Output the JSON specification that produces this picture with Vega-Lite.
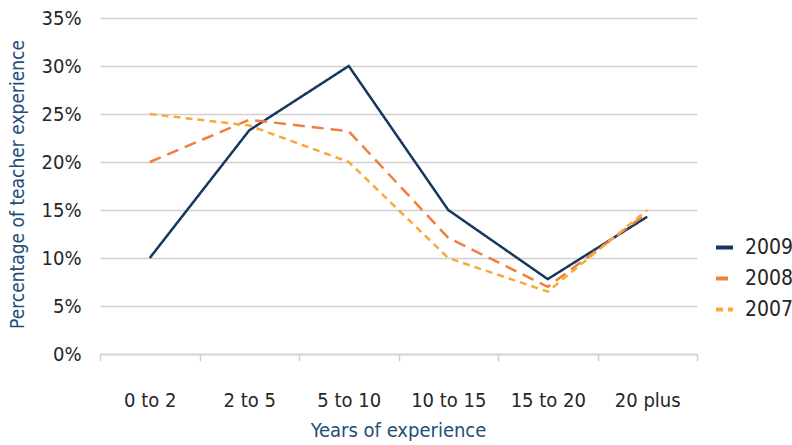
{
  "$schema": "https://vega.github.io/schema/vega-lite/v6.json",
  "width": 597,
  "height": 336,
  "autosize": {"type": "none"},
  "padding": {"left": 100, "top": 18, "right": 95, "bottom": 91},
  "background": "white",
  "config": {
    "font": "DejaVu Sans Condensed, Liberation Sans, sans-serif",
    "view": {"stroke": null}
  },
  "data": {
    "values": [
      {"exp": "0 to 2", "year": "2009", "pct": 10.0},
      {"exp": "2 to 5", "year": "2009", "pct": 23.3},
      {"exp": "5 to 10", "year": "2009", "pct": 30.0},
      {"exp": "10 to 15", "year": "2009", "pct": 15.0},
      {"exp": "15 to 20", "year": "2009", "pct": 7.8},
      {"exp": "20 plus", "year": "2009", "pct": 14.3},
      {"exp": "0 to 2", "year": "2008", "pct": 20.0},
      {"exp": "2 to 5", "year": "2008", "pct": 24.4},
      {"exp": "5 to 10", "year": "2008", "pct": 23.2},
      {"exp": "10 to 15", "year": "2008", "pct": 12.1},
      {"exp": "15 to 20", "year": "2008", "pct": 7.0},
      {"exp": "20 plus", "year": "2008", "pct": 14.7},
      {"exp": "0 to 2", "year": "2007", "pct": 25.0},
      {"exp": "2 to 5", "year": "2007", "pct": 23.8},
      {"exp": "5 to 10", "year": "2007", "pct": 20.0},
      {"exp": "10 to 15", "year": "2007", "pct": 10.0},
      {"exp": "15 to 20", "year": "2007", "pct": 6.5},
      {"exp": "20 plus", "year": "2007", "pct": 15.0}
    ]
  },
  "mark": {"type": "line", "strokeWidth": 2.5},
  "encoding": {
    "x": {
      "field": "exp",
      "type": "ordinal",
      "sort": ["0 to 2", "2 to 5", "5 to 10", "10 to 15", "15 to 20", "20 plus"],
      "scale": {"type": "band", "paddingInner": 0, "paddingOuter": 0},
      "axis": {
        "title": "Years of experience",
        "titleFontSize": 20,
        "titleFontWeight": "normal",
        "titleColor": "#1f4e79",
        "titleX": 298,
        "titleY": 76,
        "titleBaseline": "middle",
        "titleAnchor": null,
        "labelAngle": 0,
        "labelFontSize": 20,
        "labelColor": "#262626",
        "labelPadding": 29,
        "tickBand": "extent",
        "tickSize": 7,
        "tickColor": "#d0d0d0",
        "tickWidth": 1.5,
        "domainColor": "#d0d0d0",
        "domainWidth": 1.5,
        "grid": false
      }
    },
    "y": {
      "field": "pct",
      "type": "quantitative",
      "scale": {"domain": [0, 35], "nice": false},
      "axis": {
        "title": "Percentage of teacher experience",
        "titleFontSize": 19,
        "titleFontWeight": "normal",
        "titleColor": "#1f4e79",
        "titleX": -83,
        "titleY": 166,
        "titleAngle": -90,
        "titleAlign": "center",
        "titleBaseline": "middle",
        "titleAnchor": null,
        "values": [0, 5, 10, 15, 20, 25, 30, 35],
        "labelExpr": "datum.value + '%'",
        "labelFontSize": 20,
        "labelColor": "#262626",
        "labelPadding": 19,
        "ticks": false,
        "domain": false,
        "grid": true,
        "gridColor": "#d0d0d0",
        "gridWidth": 1.5
      }
    },
    "color": {
      "field": "year",
      "type": "nominal",
      "sort": ["2009", "2008", "2007"],
      "scale": {"domain": ["2009", "2008", "2007"], "range": ["#17375e", "#f07f3c", "#f9a93a"]},
      "legend": {
        "title": null,
        "orient": "none",
        "legendX": 614,
        "legendY": 219,
        "labelFontSize": 21,
        "labelColor": "#262626",
        "symbolType": "stroke",
        "symbolSize": 289,
        "symbolStrokeWidth": 4,
        "rowPadding": 9,
        "labelOffset": 10
      }
    },
    "strokeDash": {
      "field": "year",
      "type": "nominal",
      "sort": ["2009", "2008", "2007"],
      "scale": {"domain": ["2009", "2008", "2007"], "range": [[1, 0], [12, 7], [7, 5]]},
      "legend": null
    }
  }
}
